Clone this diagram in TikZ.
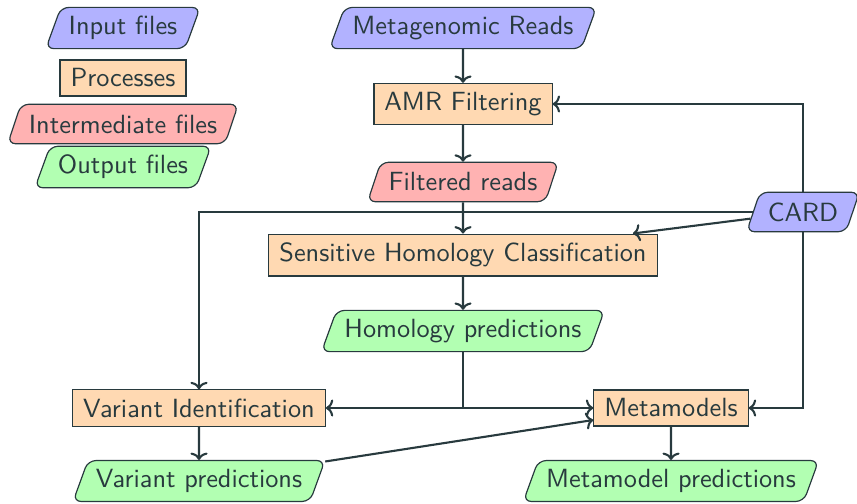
\documentclass[tikz,border=0pt]{standalone}
\usetikzlibrary{shapes.geometric,arrows.meta}
\definecolor{ink}{RGB}{40,58,62}
\begin{document}
\begin{tikzpicture}[x=0.38pt,y=-0.38pt,
  base/.style={draw=ink, text=ink, font=\sffamily, line width=0.45pt},
  proc/.style={base, rectangle, fill=orange!30, minimum height=13.7pt, inner xsep=4pt},
  para/.style={base, trapezium, trapezium left angle=70, trapezium right angle=110,
    trapezium stretches=true, rounded corners=3pt, minimum height=15pt, inner xsep=3pt},
  infile/.style={para, fill=blue!30},
  midfile/.style={para, fill=red!30},
  outfile/.style={para, fill=green!30},
  conn/.style={draw=ink, line width=0.8pt, -{To[length=2.8pt,width=6.5pt]}},
  wire/.style={draw=ink, line width=0.8pt}]
\useasboundingbox (0,0) rectangle (857,503);
% legend
\node[infile]  (lin)  at (123,28)  {Input files};
\node[proc]    (lpr)  at (123,78)  {Processes};
\node[midfile] (lmid) at (123,124) {Intermediate files};
\node[outfile] (lout) at (123,167) {Output files};
% main
\node[infile]  (MR)   at (463,28)  {Metagenomic Reads};
\node[proc]    (AMR)  at (463,104) {AMR Filtering};
\node[midfile] (FR)   at (463,182) {Filtered reads};
\node[infile]  (CARD) at (803,212) {CARD};
\node[proc]    (SHC)  at (463,255) {Sensitive Homology Classification};
\node[outfile] (HP)   at (463,331) {Homology predictions};
\node[proc]    (VI)   at (199,408) {Variant Identification};
\node[proc]    (MM)   at (671,408) {Metamodels};
\node[outfile] (VP)   at (199,481) {Variant predictions};
\node[outfile] (MP)   at (671,481) {Metamodel predictions};
\coordinate (J) at (HP.south |- VI.east);
% connectors
\draw[conn] (MR) -- (AMR);
\draw[conn] (AMR) -- (FR);
\draw[conn] (FR) -- (SHC);
\draw[conn] (SHC) -- (HP);
\draw[conn] (CARD.north) |- (AMR.east);
\draw[conn] (CARD.south) |- (MM.east);
\draw[conn] (CARD.west) -| (VI.north);
\draw[conn] (CARD) -- (SHC);
\draw[wire] (HP.south) -- (J);
\draw[conn] (J) -- (VI.east);
\draw[conn] (J) -- (MM.west);
\draw[conn] (VI) -- (VP);
\draw[conn] (MM) -- (MP);
\draw[conn] (VP) -- (MM);
\end{tikzpicture}
\end{document}
